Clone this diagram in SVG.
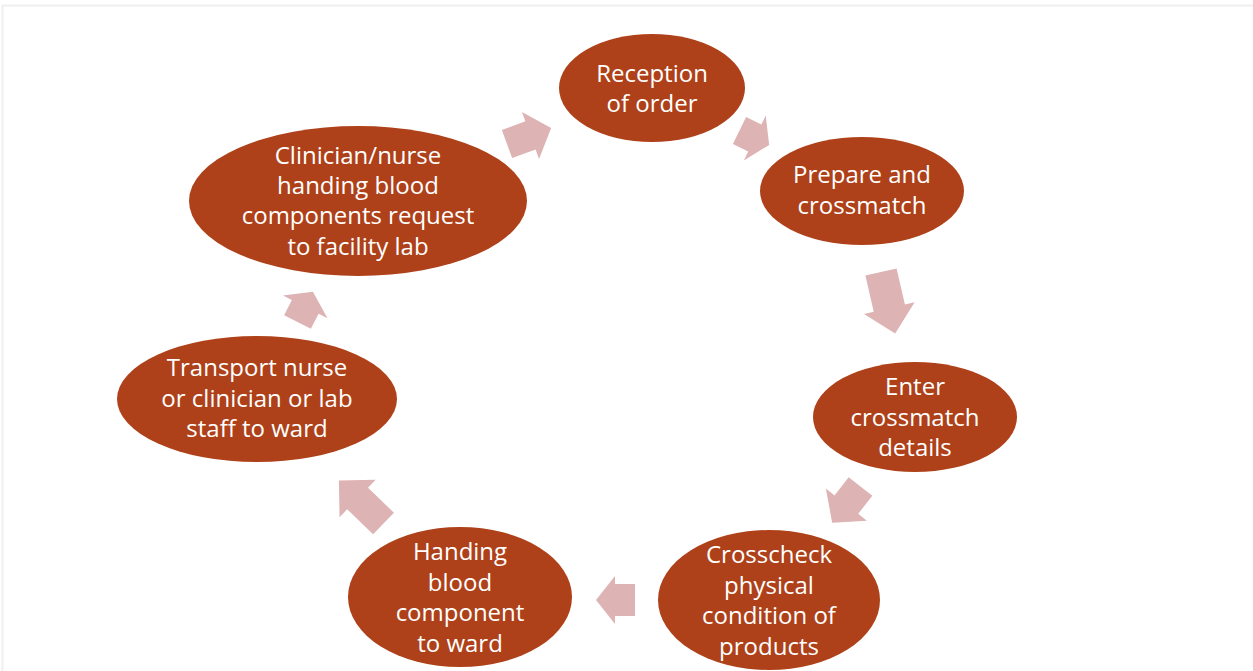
<svg xmlns="http://www.w3.org/2000/svg" width="1253" height="671" viewBox="0 0 1253 671">
<style>
.n{fill:#AE4119}
.t{fill:#fff;font-family:"Open Sans","Liberation Sans",Arial,sans-serif;font-size:24px;text-anchor:middle}
.a{fill:#DDB3B4}
</style>
<rect width="1253" height="671" fill="#fff"/>
<path d="M2.5,671 V5.5 H1253" fill="none" stroke="#EFEFEF" stroke-width="2"/>
<g id="connectors">
<polygon class="a" transform="translate(507,144) rotate(-20)" points="0,-15 25,-15 25,-25 47,0 25,25 25,15 0,15"/>
<polygon class="a" transform="translate(739.5,130.5) rotate(26)" points="0,-15 17,-15 17,-25 33,0 17,25 17,15 0,15"/>
<polygon class="a" transform="translate(881,272) rotate(77)" points="0,-16 37,-16 37,-26 63,0 37,26 37,16 0,16"/>
<polygon class="a" transform="translate(860.5,486.5) rotate(128)" points="0,-15 23,-15 23,-26 46,0 23,26 23,15 0,15"/>
<polygon class="a" transform="translate(635,600) rotate(180)" points="0,-16 20,-16 20,-24 39,0 20,24 20,16 0,16"/>
<polygon class="a" transform="translate(383.5,523.5) rotate(224)" points="0,-15 36,-15 36,-26 62,0 36,26 36,15 0,15"/>
<polygon class="a" transform="translate(297.5,322) rotate(-63)" points="0,-15 17,-15 17,-25 34,0 17,25 17,15 0,15"/>
</g>
<g id="n1">
<ellipse class="n" cx="652" cy="88" rx="93" ry="54"/>
<text class="t" x="652" y="82">Reception</text>
<text class="t" x="652" y="112">of order</text>
</g>
<g id="n2">
<ellipse class="n" cx="862" cy="191" rx="102" ry="54"/>
<text class="t" x="862" y="183">Prepare and</text>
<text class="t" x="862" y="214">crossmatch</text>
</g>
<g id="n3">
<ellipse class="n" cx="915" cy="417" rx="102" ry="55"/>
<text class="t" x="915" y="395">Enter</text>
<text class="t" x="915" y="426">crossmatch</text>
<text class="t" x="915" y="456">details</text>
</g>
<g id="n4">
<ellipse class="n" cx="769" cy="600" rx="111" ry="70"/>
<text class="t" x="769" y="563">Crosscheck</text>
<text class="t" x="769" y="594">physical</text>
<text class="t" x="769" y="624">condition of</text>
<text class="t" x="769" y="655">products</text>
</g>
<g id="n5">
<ellipse class="n" cx="460" cy="597" rx="112" ry="70"/>
<text class="t" x="460" y="560">Handing</text>
<text class="t" x="460" y="591">blood</text>
<text class="t" x="460" y="621">component</text>
<text class="t" x="460" y="652">to ward</text>
</g>
<g id="n6">
<ellipse class="n" cx="257" cy="399" rx="140" ry="63"/>
<text class="t" x="257" y="376">Transport nurse</text>
<text class="t" x="257" y="407">or clinician or lab</text>
<text class="t" x="257" y="437">staff to ward</text>
</g>
<g id="n7">
<ellipse class="n" cx="358" cy="201" rx="169" ry="75"/>
<text class="t" x="358" y="164">Clinician/nurse</text>
<text class="t" x="358" y="194">handing blood</text>
<text class="t" x="358" y="224">components request</text>
<text class="t" x="358" y="255">to facility lab</text>
</g>
</svg>
